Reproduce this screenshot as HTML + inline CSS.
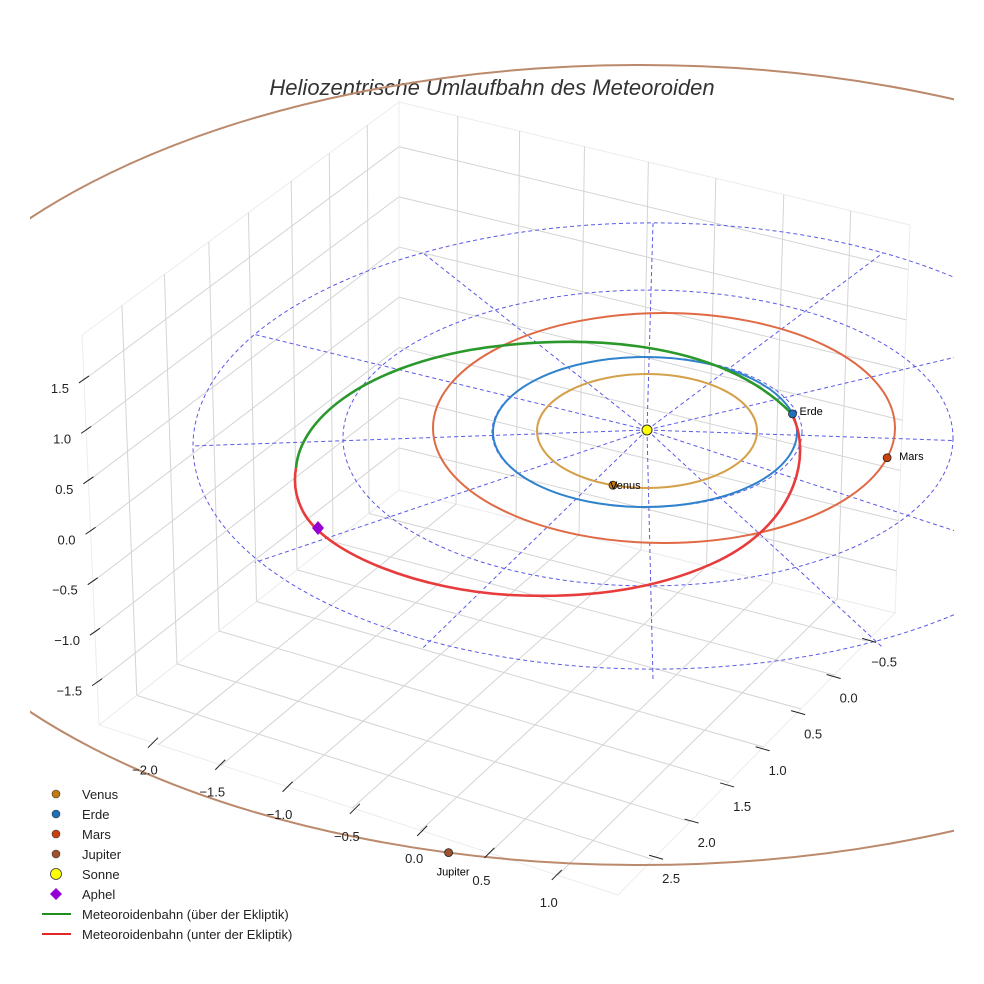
<!DOCTYPE html>
<html><head><meta charset="utf-8">
<style>
html,body{margin:0;padding:0;background:#fff;}
svg{display:block;font-family:"Liberation Sans",sans-serif;}
</style></head>
<body>
<svg id="chart" width="984" height="984" viewBox="0 0 984 984" xmlns="http://www.w3.org/2000/svg">
<defs><clipPath id="clipA"><rect x="30" y="0" width="924" height="984"/></clipPath></defs>
<text x="492" y="95" text-anchor="middle" font-size="22" font-style="italic" fill="#333">Heliozentrische Umlaufbahn des Meteoroiden</text>
<g id="panes"></g>
<g id="ecl" clip-path="url(#clipA)"></g>
<g id="orbits" clip-path="url(#clipA)"></g>
<g id="marks"></g>
<g id="axes"></g>
<g id="legend"></g>
</svg>
<script>
const zTicks=[1.5,1.0,0.5,0.0,-0.5,-1.0,-1.5];
const zTickLabels=["1.5","1.0","0.5","0.0","\u22120.5","\u22121.0","\u22121.5"];
const xTicks=[-2.0,-1.5,-1.0,-0.5,0.0,0.5,1.0];
const xTickLabels=["\u22122.0","\u22121.5","\u22121.0","\u22120.5","0.0","0.5","1.0"];
const yTicks=[-0.5,0.0,0.5,1.0,1.5,2.0,2.5];
const yTickLabels=["\u22120.5","0.0","0.5","1.0","1.5","2.0","2.5"];
const planetNames=["Venus","Erde","Mars","Jupiter"];
const planetColors=["#c47a12","#1f70b8","#c8420e","#a0522d"];
const orbitColors=["#d4a04a","#2f82cc","#e06a45","#bb8a6c"];
const orbitRx=[110,152,231,775];
const orbitRy=[57,75,115,400];
const orbitCx=[0,-2,17,-7];
const orbitCy=[1,2,-2,35];
const planetAngles=[108,-14,15,104.3];
const eclRings=[155,305,460];

const NS="http://www.w3.org/2000/svg";
function el(tag,attrs,parent){const e=document.createElementNS(NS,tag);for(const k in attrs)e.setAttribute(k,attrs[k]);parent.appendChild(e);return e;}
const sun={x:647,y:430};
const panes=document.getElementById('panes');
function lerp(a,b,t){return [a[0]+(b[0]-a[0])*t,a[1]+(b[1]-a[1])*t];}
const zmax=1.945,zmin=-1.92;
function zt(z){return (zmax-z)/(zmax-zmin);}
function quad(P,us,vs,name){
  el('polygon',{points:P.map(p=>p.join(',')).join(' '),fill:'#fff',stroke:'#ececec','stroke-width':1},panes);
  us.forEach(u=>{const a=lerp(P[0],P[1],u),b=lerp(P[3],P[2],u);
    const l=el('line',{x1:a[0],y1:a[1],x2:b[0],y2:b[1],stroke:'#d4d4d4','stroke-width':1},panes);
    });
  vs.forEach(v=>{const a=lerp(P[0],P[3],v),b=lerp(P[1],P[2],v);
    const l=el('line',{x1:a[0],y1:a[1],x2:b[0],y2:b[1],stroke:'#d4d4d4','stroke-width':1},panes);
    });
}
const LT=[82,335],BT=[399,102],RT=[910,225],LB=[99,725],BB=[399,490],RB=[895,613],FB=[618,895];
const yU=[0.126,0.26,0.40,0.525,0.66,0.78,0.9];
const xU=[0.115,0.236,0.363,0.488,0.62,0.753,0.884];
const zV=zTicks.map(zt);
quad([LT,BT,BB,LB],yU,zV,'left-wall');
quad([BT,RT,RB,BB],xU,zV,'right-wall');
quad([BB,RB,FB,LB],xU,yU.map(u=>1-u),'floor');
const ecl=document.getElementById('ecl');
const ec={x:653,y:446};
eclRings.forEach((r,i)=>{
  const e=el('ellipse',{cx:ec.x-(i==0?6:(i==1?5:0)),cy:ec.y-(i==0?14:(i==1?8:0)),rx:r,ry:r*0.485,fill:'none',stroke:'#5a5ae6','stroke-width':1,'stroke-dasharray':'4,3'},ecl);
  
});
for(let k=0;k<12;k++){
  const a=k*Math.PI/6;
  const ex=ec.x+460*Math.cos(a), ey=ec.y+223*Math.sin(a)+(Math.sin(a)>0?10*Math.sin(a):0);
  const l=el('line',{x1:sun.x,y1:sun.y,x2:ex,y2:ey,stroke:'#5a5ae6','stroke-width':1,'stroke-dasharray':'4,3'},ecl);
  
}
const orbits=document.getElementById('orbits');
planetNames.forEach((n,i)=>{
  const e=el('ellipse',{cx:sun.x+orbitCx[i],cy:sun.y+orbitCy[i],rx:orbitRx[i],ry:orbitRy[i],fill:'none',stroke:orbitColors[i],'stroke-width':2},orbits);
  
});
const g=el('path',{d:'M296,468 C300,420 360,370 470,350 C580,332 720,340 791,413',fill:'none',stroke:'#2a982a','stroke-width':2.6},orbits);

const r=el('path',{d:'M791,413 C812,450 800,520 720,560 C650,594 570,598 510,595 C420,590 330,555 305,515 C296,500 293,485 296,468',fill:'none',stroke:'#e83c3c','stroke-width':2.6},orbits);

const marks=document.getElementById('marks');
const labelOff=[[-3,4],[7,1],[12,2],[-12,23]];
planetNames.forEach((n,i)=>{
  const a=planetAngles[i]*Math.PI/180;
  const px=sun.x+orbitCx[i]+orbitRx[i]*Math.cos(a), py=sun.y+orbitCy[i]+orbitRy[i]*Math.sin(a);
  const c=el('circle',{cx:px,cy:py,r:4,fill:planetColors[i],stroke:'#222','stroke-width':0.8},marks);
  
  const t=el('text',{x:px+labelOff[i][0],y:py+labelOff[i][1],'font-size':11,fill:'#000'},marks);
  t.textContent=n;
});
const s=el('circle',{cx:sun.x,cy:sun.y,r:5,fill:'#ffff00',stroke:'#333','stroke-width':1},marks);

const ap=el('polygon',{points:'318,521 324,528 318,535 312,528',fill:'#9400d3'},marks);

const axes=document.getElementById('axes');
zTicks.forEach((z,i)=>{
  const p=lerp(LT,LB,zt(z));
  const l=el('line',{x1:p[0]-5,y1:p[1]+3,x2:p[0]+5,y2:p[1]-4,stroke:'#222','stroke-width':1},axes);
  
  const t=el('text',{x:p[0]-15,y:p[1]+13,'text-anchor':'end','font-size':13,fill:'#222'},axes);
  t.textContent=zTickLabels[i];
});
xTicks.forEach((x,i)=>{
  const u=0.104+(x+2)/3*0.778;
  const p=lerp(LB,FB,u);
  const l=el('line',{x1:p[0]-5,y1:p[1]+5,x2:p[0]+5,y2:p[1]-5,stroke:'#222','stroke-width':1},axes);
  
  const t=el('text',{x:p[0]-8,y:p[1]+32,'text-anchor':'middle','font-size':13,fill:'#222'},axes);
  t.textContent=xTickLabels[i];
});
yTicks.forEach((y,i)=>{
  const u=0.097+(y+0.5)/3*0.769;
  const p=lerp(RB,FB,u);
  const l=el('line',{x1:p[0]-6,y1:p[1]-2,x2:p[0]+8,y2:p[1]+2,stroke:'#222','stroke-width':1},axes);
  
  const t=el('text',{x:p[0]+16,y:p[1]+26,'text-anchor':'middle','font-size':13,fill:'#222'},axes);
  t.textContent=yTickLabels[i];
});
const leg=document.getElementById('legend');
const legLabels=["Venus","Erde","Mars","Jupiter","Sonne","Aphel","Meteoroidenbahn (über der Ekliptik)","Meteoroidenbahn (unter der Ekliptik)"];
legLabels.forEach((lab,i)=>{
  const y=794+i*20;
  let m;
  if(i<4){m=el('circle',{cx:56,cy:y,r:4,fill:planetColors[i],stroke:'#333','stroke-width':0.6},leg);}
  else if(i==4){m=el('circle',{cx:56,cy:y,r:5.5,fill:'#ffff00',stroke:'#333','stroke-width':0.8},leg);}
  else if(i==5){m=el('polygon',{points:`56,${y-6} 62,${y} 56,${y+6} 50,${y}`,fill:'#9400d3'},leg);}
  else {m=el('line',{x1:42,y1:y,x2:71,y2:y,stroke:i==6?'#1f8f1f':'#e02828','stroke-width':2},leg);}
  
  const t=el('text',{x:82,y:y+5,'font-size':13,fill:'#222'},leg);
  t.textContent=lab;
});
</script>
</body></html>
